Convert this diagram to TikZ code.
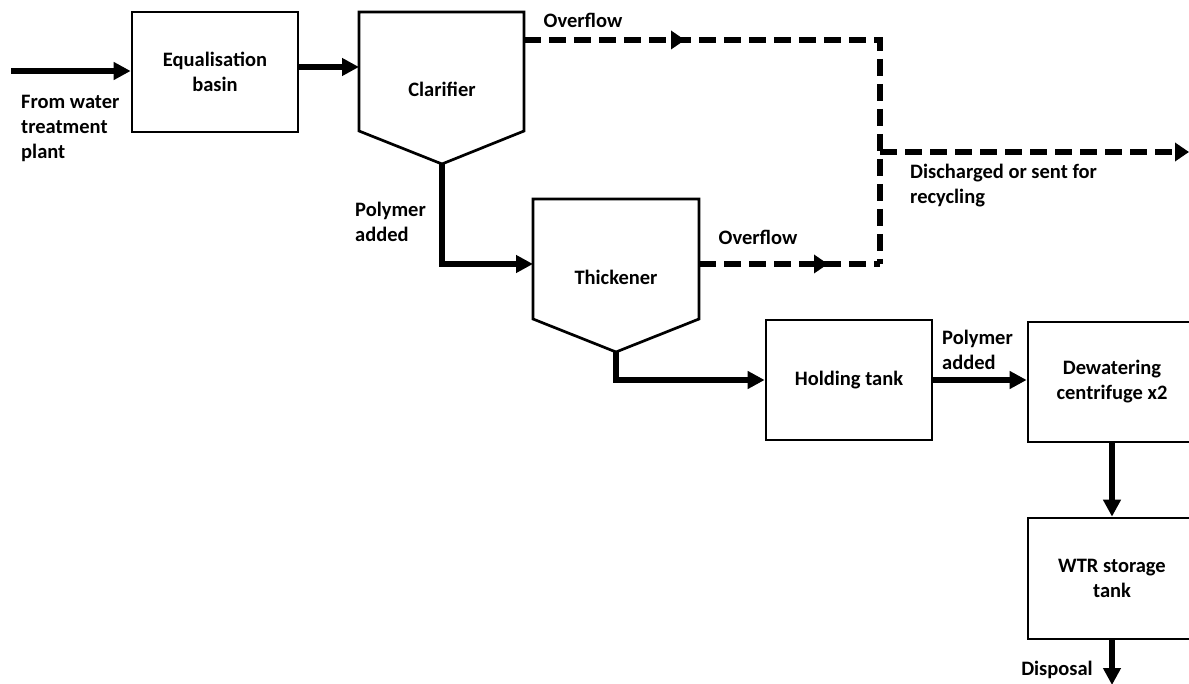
\documentclass[tikz,border=0pt]{standalone}
\usepackage{fontspec}
\setmainfont{Carlito}
\usetikzlibrary{arrows.meta,calc,decorations.markings}
\begin{document}
\begin{tikzpicture}[x=1pt,y=-1pt,
  every node/.style={font=\fontsize{20.5}{25}\selectfont\bfseries},
  box/.style={draw, line width=2.7pt, inner sep=0pt, align=center},
  tankline/.style={line width=2.7pt, line join=miter},
  flow/.style={line width=5.5pt, -{Triangle[length=17pt,width=17pt]}},
  dsh/.style={line width=6pt, dash pattern=on 17pt off 8pt},
  midarrow/.style={decoration={markings, mark=at position #1 with {\arrow{Triangle[length=14pt,width=18pt]}}}, postaction={decorate}},
  lbl/.style={inner sep=0pt, align=left},
]
\useasboundingbox (0,0) rectangle (1189,684);
\clip (0,0) rectangle (1189,684);

% boxes
\node[box, minimum width=166pt, minimum height=120pt] (eq) at (215,72) {Equalisation\\basin};
\node[box, minimum width=166pt, minimum height=120pt] (hold) at (849,380) {Holding tank};
\node[box, minimum width=168pt, minimum height=120pt] (dew) at (1112,382) {Dewatering\\centrifuge x2};
\node[box, minimum width=168pt, minimum height=121pt] (wtr) at (1112,578.5) {WTR storage\\tank};

% clarifier
\coordinate (clNW) at (359,12);
\coordinate (clNE) at (524,12);
\coordinate (clSE) at (524,131);
\coordinate (clB) at (442,164);
\coordinate (clSW) at (359,131);
\draw[tankline] (clNW) -- (clNE) -- (clSE) -- (clB) -- (clSW) -- cycle;
\node (clT) at (442,89) {Clarifier};

% thickener
\coordinate (thNW) at (533,199);
\coordinate (thNE) at (699,199);
\coordinate (thSE) at (699,319);
\coordinate (thB) at (616,352);
\coordinate (thSW) at (533,319);
\draw[tankline] (thNW) -- (thNE) -- (thSE) -- (thB) -- (thSW) -- cycle;
\node (thT) at (616,277) {Thickener};

% solid flows
\coordinate (src) at (11,71);
\draw[flow] (src) -- (src -| eq.west);
\coordinate (eqOut) at ($(eq.east)+(0,-5)$);
\draw[flow] (eqOut) -- (eqOut -| clNW);
\coordinate (thIn) at (533,264);
\draw[flow] (clB) -- (clB |- thIn) -- (thIn);
\draw[flow] (thB) -- (thB |- hold.west) -- (hold.west);
\draw[flow] (hold.east) -- (hold.east -| dew.west);
\draw[flow] (dew.south) -- (wtr.north);
\coordinate (disp) at (1112,685);
\draw[flow] (wtr.south) -- (disp);

% dashed overflows
\coordinate (clOF) at (524,40);
\coordinate (jTop) at (880,40);
\coordinate (jMid) at (880,152);
\coordinate (jBot) at (880,264);
\coordinate (thOF) at (699,264);
\coordinate (dischg) at (1189,152);
\draw[dsh, midarrow=161pt] (clOF) -- (jTop) -- (jBot);
\draw[dsh, midarrow=129pt] (thOF) -- (jBot);
\draw[dsh, -{Triangle[length=14pt,width=18pt]}] (jMid) -- (dischg);

% labels
\node[lbl, anchor=west] (lFrom) at (21,128) {From water\\treatment\\plant};
\node[lbl] (lOF1) at (583,20) {Overflow};
\node[lbl, anchor=west] (lPoly1) at (355,222) {Polymer\\added};
\node[lbl] (lOF2) at (758,237) {Overflow};
\node[lbl, anchor=west] (lDis) at (910,186) {Discharged or sent for\\recycling};
\node[lbl, anchor=west] (lPoly2) at (942,350) {Polymer\\added};
\node[lbl] (lDisp) at (1057,670) {Disposal};
\end{tikzpicture}
\end{document}
